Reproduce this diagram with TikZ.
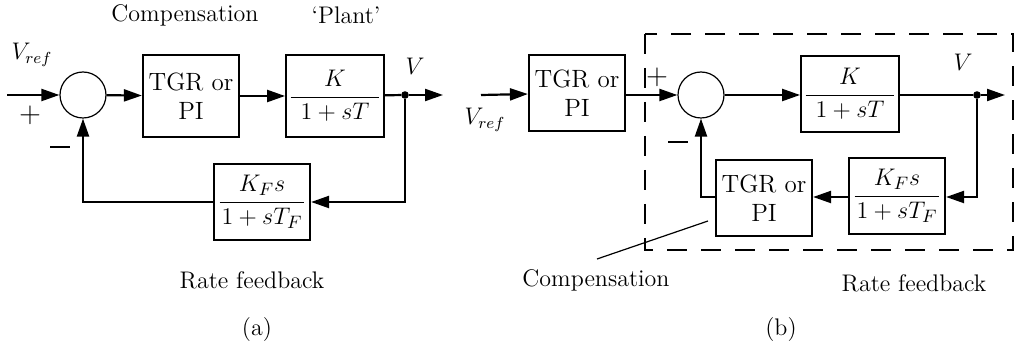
\documentclass[tikz,border=0pt]{standalone}
\usepackage{amsmath}
\usetikzlibrary{arrows.meta, calc}

\begin{document}
\begin{tikzpicture}[
    x=0.5pt, y=-0.5pt,
    font=\fontsize{12}{14}\selectfont,
    block/.style={rectangle, draw, line width=1.1pt, minimum width=48pt, minimum height=38pt, inner sep=1pt, align=center, font=\fontsize{12.5}{14.5}\selectfont},
    sum/.style={circle, draw, line width=0.6pt, minimum size=23pt, inner sep=0pt},
    junction/.style={circle, fill, minimum size=3.8pt, inner sep=0pt},
    sig/.style={line width=1.1pt, -{Triangle[length=9pt, width=6pt]}},
    wire/.style={line width=1.1pt},
    txt/.style={inner sep=0pt},
    sign/.style={inner sep=0pt, font=\fontsize{14}{16}\selectfont},
    frame/.style={line width=1.1pt, dash pattern=on 10pt off 7pt}
]
    \useasboundingbox (0,0) rectangle (1014,352);

    % ---------- (a) ----------
    \coordinate (ina) at (7,95);
    \node[sum] (suma) at (83,95) {};
    \node[block, minimum height=41pt] (compa) at (191,96) {TGR or\\PI};
    \node[block, minimum height=41pt] (planta) at (335,96) {$\dfrac{K}{\kern5pt 1+sT\kern5pt}$};
    \node[block] (ratea) at (262,202) {$\dfrac{K_F s}{\kern1pt 1+sT_F\kern1pt}$};
    \node[junction] (dota) at (405,95) {};
    \coordinate (outa) at (443,95);
    \coordinate (cra) at (405,202);
    \coordinate (cla) at (83,202);

    \draw[sig] (ina) -- (suma);
    \draw[sig] (suma) -- (compa);
    \draw[sig] (compa) -- (planta);
    \draw[wire] (planta) -- (dota);
    \draw[sig] (dota) -- (outa);
    \draw[sig] (dota) -- (cra) -- (ratea);
    \draw[sig] (ratea) -- (cla) -- (suma.south);

    % labels
    \node[txt] (vrefa) at (32,55) {\large $V_{ref}$};
    \node[sign] (plusa) at (30,115) {$+$};
    \node[sign] (minusa) at (60,147) {\rule{10pt}{1.3pt}};
    \node[txt] (va) at (415,66) {\large $V$};
    \node[txt] (compla) at (185,15) {Compensation};
    \node[txt] (plantl) at (346,15) {`Plant'};
    \node[txt] (ratela) at (252,280) {Rate feedback};
    \node[txt] (capa) at (257,330) {(a)};

    % ---------- (b) ----------
    \draw[frame] (645,34) rectangle (1013,250);
    \coordinate (inb) at (481,95);
    \node[block] (compb) at (577,93) {TGR or\\PI};
    \node[sum] (sumb) at (701,95) {};
    \node[block] (plantb) at (850,94) {$\dfrac{K}{\kern5pt 1+sT\kern5pt}$};
    \node[junction] (dotb) at (977,95) {};
    \coordinate (outb) at (1005,95);
    \node[block] (rateb) at (897,196) {$\dfrac{K_F s}{\kern1pt 1+sT_F\kern1pt}$};
    \node[block] (compfb) at (764,198) {TGR or\\PI};
    \coordinate (crb) at (977,197);
    \coordinate (clb) at (701,197);

    \draw[sig] (inb) -- (compb);
    \draw[sig] (compb.east |- sumb) -- (sumb);
    \draw[sig] (sumb) -- (plantb.west |- sumb);
    \draw[wire] (plantb.east |- dotb) -- (dotb);
    \draw[sig] (dotb) -- (outb);
    \draw[sig] (dotb) -- (crb) -- (rateb.east |- crb);
    \draw[sig] (rateb.west |- crb) -- (compfb.east |- crb);
    \draw[sig] (compfb.west |- clb) -- (clb) -- (sumb.south);

    % labels
    \node[txt] (vrefb) at (485,120) {\large $V_{ref}$};
    \node[sign] (plusb) at (657,77) {$+$};
    \node[sign] (minusb) at (678,142) {\rule{10pt}{1.3pt}};
    \node[txt] (vb) at (963,62) {\large $V$};
    \node[txt] (complb) at (596,280) {Compensation};
    \coordinate (tipb) at (708,221);
    \draw[line width=0.6pt] (tipb) -- (597,259);
    \node[txt] (ratelb) at (914,283) {Rate feedback};
    \node[txt] (capb) at (781,330) {(b)};
\end{tikzpicture}
\end{document}
